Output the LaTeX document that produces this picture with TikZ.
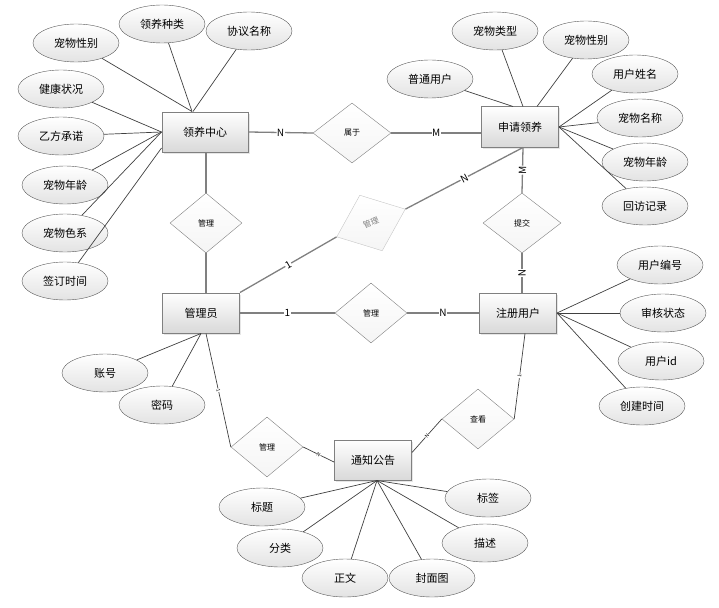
\documentclass[tikz,border=0pt]{standalone}
\usepackage{fontspec}
\setmainfont{Noto Sans CJK SC}
\usetikzlibrary{shapes.geometric, shadows}

\begin{document}
\begin{tikzpicture}[x=1pt, y=-1pt,
    entity/.style={draw=gray, line width=1pt, top color=white, bottom color=gray!30,
        minimum width=77pt, minimum height=40pt, font=\fontsize{11}{13}\selectfont,
        drop shadow={opacity=0.2, shadow xshift=1.5pt, shadow yshift=-1.5pt}},
    attr/.style={draw=black!65, ellipse, top color=white, bottom color=gray!22,
        minimum width=86pt, minimum height=38pt, inner sep=0pt, font=\fontsize{11}{13}\selectfont},
    rel/.style={draw=gray, diamond, top color=white, bottom color=gray!8, minimum width=74pt,
        minimum height=60pt, inner sep=0pt, font=\fontsize{8}{9}\selectfont},
    conn/.style={draw=gray, line width=1.3pt},
    attrline/.style={draw=black!75, line width=0.7pt},
    card/.style={fill=white, inner sep=0.5pt, sloped, font=\fontsize{10}{11}\selectfont},
    tinycard/.style={fill=white, inner sep=0.3pt, sloped, font=\fontsize{5}{5}\selectfont}]
    \useasboundingbox (0,0) rectangle (719,607);

    % entities
    \node[entity, minimum width=86pt] (lyzx) at (205,132) {领养中心};
    \node[entity] (sqly) at (520,127) {申请领养};
    \node[entity] (gly) at (201,313) {管理员};
    \node[entity] (zcyh) at (518,313) {注册用户};
    \node[entity] (tzgg) at (373,460) {通知公告};

    % relations
    \node[rel, minimum width=78pt] (sy) at (352,133) {属于};
    \node[rel, minimum width=72pt] (gla) at (206,223) {管理};
    \node[rel, draw=gray!45, text=gray, rotate=22] (glb) at (371,223) {管理};
    \node[rel, minimum width=78pt] (tj) at (522,223) {提交};
    \node[rel, minimum width=72pt] (glc) at (371,313) {管理};
    \node[rel, minimum width=72pt] (gld) at (267,447) {管理};
    \node[rel, minimum width=72pt] (ck) at (478,419) {查看};

    % attributes of 领养中心
    \node[attr] (cwxba) at (76,43) {宠物性别};
    \node[attr] (lyzl) at (162,24) {领养种类};
    \node[attr] (xymc) at (249,31) {协议名称};
    \node[attr] (jkzk) at (61,89) {健康状况};
    \node[attr] (yfcn) at (61,136) {乙方承诺};
    \node[attr] (cwnla) at (65,185) {宠物年龄};
    \node[attr] (cwsx) at (65,233) {宠物色系};
    \node[attr] (qdsj) at (65,281) {签订时间};
    \draw[attrline] (cwxba) -- ([xshift=-13pt]lyzx.north);
    \draw[attrline] (lyzl) -- ([xshift=-13pt]lyzx.north);
    \draw[attrline] (xymc) -- ([xshift=-12pt]lyzx.north);
    \foreach \a in {jkzk, yfcn, cwnla, cwsx}
        \draw[attrline] (\a) -- (lyzx.west);
    \draw[attrline] (qdsj) -- ([yshift=-16pt]lyzx.west);

    % attributes of 申请领养
    \node[attr] (ptyh) at (430,79) {普通用户};
    \node[attr] (cwlx) at (495,31) {宠物类型};
    \node[attr] (cwxbb) at (586,40) {宠物性别};
    \node[attr] (yhxm) at (635,74) {用户姓名};
    \node[attr] (cwmc) at (640,118) {宠物名称};
    \node[attr] (cwnlb) at (645,162) {宠物年龄};
    \node[attr] (hfjl) at (645,206) {回访记录};
    \draw[attrline] (ptyh) -- ([xshift=-7pt]sqly.north);
    \draw[attrline] (cwlx) -- ([xshift=3pt]sqly.north);
    \draw[attrline] (cwxbb) -- ([xshift=17pt]sqly.north);
    \foreach \a in {yhxm, cwmc, cwnlb, hfjl}
        \draw[attrline] (\a) -- (sqly.east);

    % attributes of 注册用户
    \node[attr] (yhbh) at (660,265) {用户编号};
    \node[attr] (shzt) at (663,313) {审核状态};
    \node[attr] (yhid) at (661,361) {用户id};
    \node[attr] (cjsj) at (642,406) {创建时间};
    \foreach \a in {yhbh, shzt, yhid, cjsj}
        \draw[attrline] (\a) -- (zcyh.east);

    % attributes of 管理员
    \node[attr] (zh) at (105,373) {账号};
    \node[attr] (mm) at (162,405) {密码};
    \draw[attrline] (zh) -- (gly.south);
    \draw[attrline] (mm) -- (gly.south);

    % attributes of 通知公告
    \node[attr] (bt) at (262,507) {标题};
    \node[attr] (fl) at (280,548) {分类};
    \node[attr] (zw) at (345,578) {正文};
    \node[attr] (fmt) at (432,578) {封面图};
    \node[attr] (ms) at (485,543) {描述};
    \node[attr] (bq) at (488,498) {标签};
    \foreach \a in {bt, fl, zw, fmt, ms, bq}
        \draw[attrline] (\a) -- ([xshift=4pt]tzgg.south);

    % connectors
    \draw[conn] (lyzx.east) -- node[card]{N} (sy.west);
    \draw[conn] (sy.east) -- node[card]{M} (sqly.west |- sy.east);
    \draw[conn] (gla.north |- lyzx.south) -- (gla.north);
    \draw[conn] (gla.south) -- (gla.south |- gly.north);
    \draw[conn] (gly.north east) -- node[card]{1} (glb.west);
    \draw[conn] (glb.east) -- node[card]{N} ([xshift=3pt]sqly.south);
    \draw[conn] ([xshift=3pt]sqly.south) -- node[card]{M} (tj.north);
    \draw[conn] (tj.south) -- node[card]{N} (tj.south |- zcyh.north);
    \draw[conn] (gly.east) -- node[card]{1} (glc.west);
    \draw[conn] (glc.east) -- node[card]{N} (zcyh.west);
    \draw[attrline] ([xshift=5pt]gly.south) -- node[tinycard]{1} (gld.west);
    \draw[attrline] (gld.east) -- node[tinycard]{N} ([yshift=-2pt]tzgg.west);
    \draw[attrline] ([xshift=7pt]zcyh.south) -- node[tinycard]{1} (ck.east);
    \draw[attrline] (ck.west) -- node[tinycard]{N} ([yshift=-13pt]tzgg.north east);
\end{tikzpicture}
\end{document}
